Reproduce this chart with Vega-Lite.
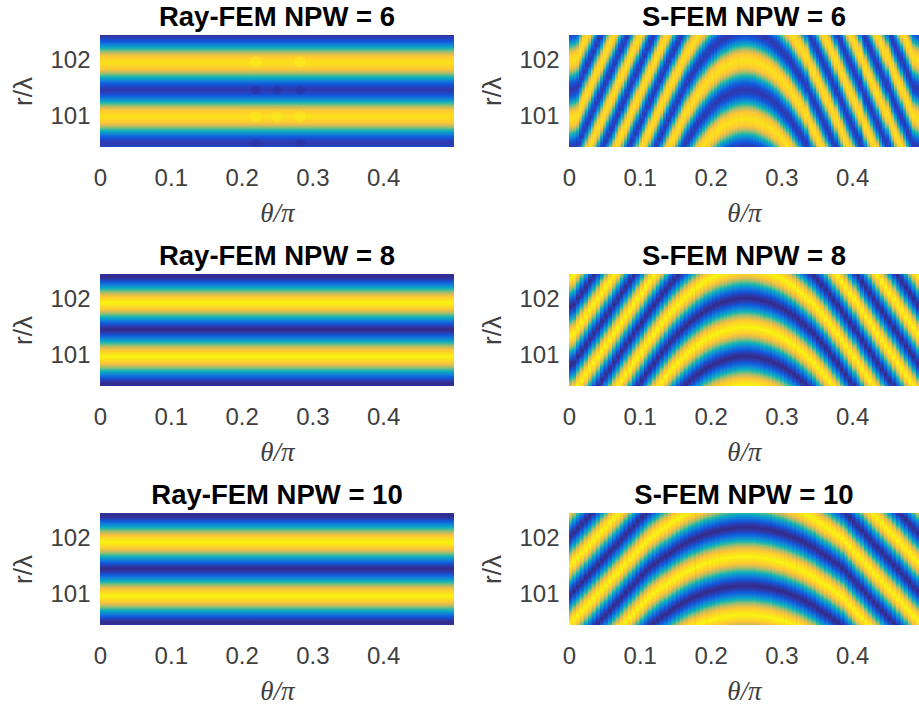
{"$schema":"https://vega.github.io/schema/vega-lite/v6.json","background":"white","padding":{"left":10,"top":3,"right":0,"bottom":0},
"config":{"view":{"stroke":null,"fill":"#352a87"},
"title":{"font":"Liberation Sans","fontSize":27.5,"fontWeight":"bold","color":"#000000","offset":4},
"axis":{"grid":false,"domain":false,"ticks":false,"labelFont":"Liberation Sans","labelFontSize":24,"labelColor":"#404040","titleColor":"#404040","titleFontWeight":"normal"},
"bar":{"color":{"gradient":"linear","x1":0,"y1":0,"x2":0,"y2":1,"stops":[{"offset":0,"color":"#2f38ab"},{"offset":0.06,"color":"#2344c4"},{"offset":0.115,"color":"#0f5cdd"},{"offset":0.167,"color":"#1481d6"},{"offset":0.21,"color":"#06a4ca"},{"offset":0.25,"color":"#2eb7a4"},{"offset":0.29,"color":"#87bf77"},{"offset":0.333,"color":"#d1bb59"},{"offset":0.385,"color":"#fec832"},{"offset":0.5,"color":"#fbe21a"},{"offset":0.615,"color":"#fec832"},{"offset":0.667,"color":"#d1bb59"},{"offset":0.71,"color":"#87bf77"},{"offset":0.75,"color":"#2eb7a4"},{"offset":0.79,"color":"#06a4ca"},{"offset":0.833,"color":"#1481d6"},{"offset":0.885,"color":"#0f5cdd"},{"offset":0.94,"color":"#2344c4"},{"offset":1,"color":"#2f38ab"}]}},
"rect":{"color":{"gradient":"linear","x1":0,"y1":0,"x2":0,"y2":1,"stops":[{"offset":0,"color":"#352a87"},{"offset":0.06,"color":"#2a3cb0"},{"offset":0.115,"color":"#0f5cdd"},{"offset":0.167,"color":"#1481d6"},{"offset":0.21,"color":"#06a4ca"},{"offset":0.25,"color":"#2eb7a4"},{"offset":0.29,"color":"#87bf77"},{"offset":0.333,"color":"#d1bb59"},{"offset":0.385,"color":"#fec832"},{"offset":0.5,"color":"#f9f50f"},{"offset":0.615,"color":"#fec832"},{"offset":0.667,"color":"#d1bb59"},{"offset":0.71,"color":"#87bf77"},{"offset":0.75,"color":"#2eb7a4"},{"offset":0.79,"color":"#06a4ca"},{"offset":0.833,"color":"#1481d6"},{"offset":0.885,"color":"#0f5cdd"},{"offset":0.94,"color":"#2a3cb0"},{"offset":1,"color":"#352a87"}]}}
},
"datasets":{
"ray":[{"p":6,"t":0,"t2":0.5,"a":99.55,"b":100.53},{"p":6,"t":0,"t2":0.5,"a":100.53,"b":101.48},{"p":6,"t":0,"t2":0.5,"a":101.48,"b":102.45},{"p":8,"t":0,"t2":0.5,"a":99.53,"b":100.5},{"p":8,"t":0,"t2":0.5,"a":100.5,"b":101.47},{"p":8,"t":0,"t2":0.5,"a":101.47,"b":102.42},{"p":8,"t":0,"t2":0.5,"a":102.42,"b":103.4},{"p":10,"t":0,"t2":0.5,"a":99.53,"b":100.5},{"p":10,"t":0,"t2":0.5,"a":100.5,"b":101.46},{"p":10,"t":0,"t2":0.5,"a":101.46,"b":102.42},{"p":10,"t":0,"t2":0.5,"a":102.42,"b":103.4}],
"dark":[{"t":0.22,"r":101.48},{"t":0.25,"r":101.48},{"t":0.283,"r":101.48},{"t":0.22,"r":100.52},{"t":0.283,"r":100.52}],
"bright":[{"t":0.22,"r":101.98},{"t":0.283,"r":101.98},{"t":0.22,"r":101.0},{"t":0.25,"r":101.0},{"t":0.283,"r":101.0}],
"s6":[{"t":0.001,"a":99.39,"b":100.43,"c":101.47,"d":102.51},{"t":0.004,"a":99.4,"b":100.44,"c":101.48,"d":102.52},{"t":0.008,"a":99.42,"b":100.46,"c":101.5,"d":102.54},{"t":0.013,"a":99.46,"b":100.5,"c":101.54,"d":102.58},{"t":0.017,"a":99.58,"b":100.62,"c":101.66,"d":102.7},{"t":0.021,"a":99.7,"b":100.74,"c":101.78,"d":102.82},{"t":0.025,"a":99.82,"b":100.86,"c":101.9,"d":102.94},{"t":0.03,"a":99.94,"b":100.98,"c":102.02,"d":103.06},{"t":0.034,"a":100.05,"b":101.09,"c":102.13,"d":103.17},{"t":0.038,"a":100.17,"b":101.21,"c":102.25,"d":103.29},{"t":0.042,"a":100.29,"b":101.33,"c":102.37,"d":103.41},{"t":0.047,"a":100.41,"b":101.45,"c":102.49,"d":103.53},{"t":0.051,"a":99.49,"b":100.53,"c":101.57,"d":102.61},{"t":0.055,"a":99.6,"b":100.64,"c":101.68,"d":102.72},{"t":0.059,"a":99.72,"b":100.76,"c":101.8,"d":102.84},{"t":0.064,"a":99.84,"b":100.88,"c":101.92,"d":102.96},{"t":0.068,"a":99.96,"b":101.0,"c":102.04,"d":103.08},{"t":0.072,"a":100.08,"b":101.12,"c":102.16,"d":103.2},{"t":0.076,"a":100.19,"b":101.23,"c":102.27,"d":103.31},{"t":0.081,"a":100.31,"b":101.35,"c":102.39,"d":103.43},{"t":0.085,"a":100.43,"b":101.47,"c":102.51,"d":103.55},{"t":0.089,"a":99.51,"b":100.55,"c":101.59,"d":102.63},{"t":0.093,"a":99.63,"b":100.67,"c":101.71,"d":102.75},{"t":0.097,"a":99.74,"b":100.78,"c":101.82,"d":102.86},{"t":0.102,"a":99.86,"b":100.9,"c":101.94,"d":102.98},{"t":0.106,"a":99.98,"b":101.02,"c":102.06,"d":103.1},{"t":0.11,"a":100.1,"b":101.14,"c":102.18,"d":103.22},{"t":0.114,"a":100.22,"b":101.26,"c":102.3,"d":103.34},{"t":0.119,"a":100.33,"b":101.37,"c":102.41,"d":103.45},{"t":0.123,"a":99.41,"b":100.45,"c":101.49,"d":102.53},{"t":0.127,"a":99.53,"b":100.57,"c":101.61,"d":102.65},{"t":0.131,"a":99.65,"b":100.69,"c":101.73,"d":102.77},{"t":0.136,"a":99.77,"b":100.81,"c":101.85,"d":102.89},{"t":0.14,"a":99.88,"b":100.92,"c":101.96,"d":103.0},{"t":0.144,"a":99.99,"b":101.03,"c":102.07,"d":103.11},{"t":0.148,"a":100.1,"b":101.14,"c":102.18,"d":103.22},{"t":0.153,"a":100.21,"b":101.25,"c":102.29,"d":103.33},{"t":0.157,"a":100.31,"b":101.35,"c":102.39,"d":103.43},{"t":0.161,"a":100.42,"b":101.46,"c":102.5,"d":103.54},{"t":0.165,"a":99.48,"b":100.52,"c":101.56,"d":102.6},{"t":0.169,"a":99.57,"b":100.61,"c":101.65,"d":102.69},{"t":0.174,"a":99.66,"b":100.7,"c":101.74,"d":102.78},{"t":0.178,"a":99.74,"b":100.78,"c":101.82,"d":102.86},{"t":0.182,"a":99.82,"b":100.86,"c":101.9,"d":102.94},{"t":0.186,"a":99.9,"b":100.94,"c":101.98,"d":103.02},{"t":0.191,"a":99.97,"b":101.01,"c":102.05,"d":103.09},{"t":0.195,"a":100.03,"b":101.07,"c":102.11,"d":103.15},{"t":0.199,"a":100.09,"b":101.13,"c":102.17,"d":103.21},{"t":0.203,"a":100.15,"b":101.19,"c":102.23,"d":103.27},{"t":0.208,"a":100.2,"b":101.24,"c":102.28,"d":103.32},{"t":0.212,"a":100.25,"b":101.29,"c":102.33,"d":103.37},{"t":0.216,"a":100.29,"b":101.33,"c":102.37,"d":103.41},{"t":0.22,"a":100.32,"b":101.36,"c":102.4,"d":103.44},{"t":0.225,"a":100.35,"b":101.39,"c":102.43,"d":103.47},{"t":0.229,"a":100.38,"b":101.42,"c":102.46,"d":103.5},{"t":0.233,"a":100.4,"b":101.44,"c":102.48,"d":103.52},{"t":0.237,"a":100.42,"b":101.46,"c":102.5,"d":103.54},{"t":0.242,"a":100.43,"b":101.47,"c":102.51,"d":103.55},{"t":0.246,"a":100.44,"b":101.48,"c":102.52,"d":103.56},{"t":0.25,"a":100.44,"b":101.48,"c":102.52,"d":103.56},{"t":0.254,"a":100.44,"b":101.48,"c":102.52,"d":103.56},{"t":0.258,"a":100.43,"b":101.47,"c":102.51,"d":103.55},{"t":0.263,"a":100.42,"b":101.46,"c":102.5,"d":103.54},{"t":0.267,"a":100.4,"b":101.44,"c":102.48,"d":103.52},{"t":0.271,"a":100.38,"b":101.42,"c":102.46,"d":103.5},{"t":0.275,"a":100.35,"b":101.39,"c":102.43,"d":103.47},{"t":0.28,"a":100.32,"b":101.36,"c":102.4,"d":103.44},{"t":0.284,"a":100.29,"b":101.33,"c":102.37,"d":103.41},{"t":0.288,"a":100.25,"b":101.29,"c":102.33,"d":103.37},{"t":0.292,"a":100.2,"b":101.24,"c":102.28,"d":103.32},{"t":0.297,"a":100.15,"b":101.19,"c":102.23,"d":103.27},{"t":0.301,"a":100.09,"b":101.13,"c":102.17,"d":103.21},{"t":0.305,"a":100.03,"b":101.07,"c":102.11,"d":103.15},{"t":0.309,"a":99.97,"b":101.01,"c":102.05,"d":103.09},{"t":0.314,"a":99.9,"b":100.94,"c":101.98,"d":103.02},{"t":0.318,"a":99.82,"b":100.86,"c":101.9,"d":102.94},{"t":0.322,"a":99.74,"b":100.78,"c":101.82,"d":102.86},{"t":0.326,"a":99.66,"b":100.7,"c":101.74,"d":102.78},{"t":0.331,"a":99.57,"b":100.61,"c":101.65,"d":102.69},{"t":0.335,"a":99.48,"b":100.52,"c":101.56,"d":102.6},{"t":0.339,"a":100.42,"b":101.46,"c":102.5,"d":103.54},{"t":0.343,"a":100.31,"b":101.35,"c":102.39,"d":103.43},{"t":0.347,"a":100.21,"b":101.25,"c":102.29,"d":103.33},{"t":0.352,"a":100.1,"b":101.14,"c":102.18,"d":103.22},{"t":0.356,"a":99.99,"b":101.03,"c":102.07,"d":103.11},{"t":0.36,"a":99.88,"b":100.92,"c":101.96,"d":103.0},{"t":0.364,"a":99.77,"b":100.81,"c":101.85,"d":102.89},{"t":0.369,"a":99.65,"b":100.69,"c":101.73,"d":102.77},{"t":0.373,"a":99.53,"b":100.57,"c":101.61,"d":102.65},{"t":0.377,"a":99.41,"b":100.45,"c":101.49,"d":102.53},{"t":0.381,"a":100.33,"b":101.37,"c":102.41,"d":103.45},{"t":0.386,"a":100.22,"b":101.26,"c":102.3,"d":103.34},{"t":0.39,"a":100.1,"b":101.14,"c":102.18,"d":103.22},{"t":0.394,"a":99.98,"b":101.02,"c":102.06,"d":103.1},{"t":0.398,"a":99.86,"b":100.9,"c":101.94,"d":102.98},{"t":0.403,"a":99.74,"b":100.78,"c":101.82,"d":102.86},{"t":0.407,"a":99.63,"b":100.67,"c":101.71,"d":102.75},{"t":0.411,"a":99.51,"b":100.55,"c":101.59,"d":102.63},{"t":0.415,"a":100.43,"b":101.47,"c":102.51,"d":103.55},{"t":0.419,"a":100.31,"b":101.35,"c":102.39,"d":103.43},{"t":0.424,"a":100.19,"b":101.23,"c":102.27,"d":103.31},{"t":0.428,"a":100.08,"b":101.12,"c":102.16,"d":103.2},{"t":0.432,"a":99.96,"b":101.0,"c":102.04,"d":103.08},{"t":0.436,"a":99.84,"b":100.88,"c":101.92,"d":102.96},{"t":0.441,"a":99.72,"b":100.76,"c":101.8,"d":102.84},{"t":0.445,"a":99.6,"b":100.64,"c":101.68,"d":102.72},{"t":0.449,"a":99.49,"b":100.53,"c":101.57,"d":102.61},{"t":0.453,"a":100.41,"b":101.45,"c":102.49,"d":103.53},{"t":0.458,"a":100.29,"b":101.33,"c":102.37,"d":103.41},{"t":0.462,"a":100.17,"b":101.21,"c":102.25,"d":103.29},{"t":0.466,"a":100.05,"b":101.09,"c":102.13,"d":103.17},{"t":0.47,"a":99.94,"b":100.98,"c":102.02,"d":103.06},{"t":0.475,"a":99.82,"b":100.86,"c":101.9,"d":102.94},{"t":0.479,"a":99.7,"b":100.74,"c":101.78,"d":102.82},{"t":0.483,"a":99.58,"b":100.62,"c":101.66,"d":102.7},{"t":0.487,"a":99.46,"b":100.5,"c":101.54,"d":102.58},{"t":0.492,"a":99.42,"b":100.46,"c":101.5,"d":102.54},{"t":0.496,"a":99.4,"b":100.44,"c":101.48,"d":102.52}],
"s8":[{"t":0.001,"a":99.79,"b":100.83,"c":101.87,"d":102.91},{"t":0.007,"a":99.83,"b":100.87,"c":101.91,"d":102.95},{"t":0.013,"a":99.94,"b":100.98,"c":102.02,"d":103.06},{"t":0.018,"a":100.04,"b":101.08,"c":102.12,"d":103.16},{"t":0.024,"a":100.14,"b":101.18,"c":102.22,"d":103.26},{"t":0.03,"a":100.25,"b":101.29,"c":102.33,"d":103.37},{"t":0.035,"a":100.35,"b":101.39,"c":102.43,"d":103.47},{"t":0.041,"a":99.41,"b":100.45,"c":101.49,"d":102.53},{"t":0.047,"a":99.52,"b":100.56,"c":101.6,"d":102.64},{"t":0.052,"a":99.62,"b":100.66,"c":101.7,"d":102.74},{"t":0.058,"a":99.72,"b":100.76,"c":101.8,"d":102.84},{"t":0.064,"a":99.83,"b":100.87,"c":101.91,"d":102.95},{"t":0.069,"a":99.93,"b":100.97,"c":102.01,"d":103.05},{"t":0.075,"a":100.04,"b":101.08,"c":102.12,"d":103.16},{"t":0.08,"a":100.14,"b":101.18,"c":102.22,"d":103.26},{"t":0.086,"a":100.24,"b":101.28,"c":102.32,"d":103.36},{"t":0.092,"a":100.35,"b":101.39,"c":102.43,"d":103.47},{"t":0.097,"a":99.41,"b":100.45,"c":101.49,"d":102.53},{"t":0.103,"a":99.51,"b":100.55,"c":101.59,"d":102.63},{"t":0.109,"a":99.62,"b":100.66,"c":101.7,"d":102.74},{"t":0.114,"a":99.72,"b":100.76,"c":101.8,"d":102.84},{"t":0.12,"a":99.82,"b":100.86,"c":101.9,"d":102.94},{"t":0.126,"a":99.91,"b":100.95,"c":101.99,"d":103.03},{"t":0.131,"a":100.01,"b":101.05,"c":102.09,"d":103.13},{"t":0.137,"a":100.1,"b":101.14,"c":102.18,"d":103.22},{"t":0.143,"a":100.19,"b":101.23,"c":102.27,"d":103.31},{"t":0.148,"a":100.27,"b":101.31,"c":102.35,"d":103.39},{"t":0.154,"a":100.35,"b":101.39,"c":102.43,"d":103.47},{"t":0.16,"a":99.38,"b":100.42,"c":101.46,"d":102.5},{"t":0.165,"a":99.45,"b":100.49,"c":101.53,"d":102.57},{"t":0.171,"a":99.51,"b":100.55,"c":101.59,"d":102.63},{"t":0.176,"a":99.57,"b":100.61,"c":101.65,"d":102.69},{"t":0.182,"a":99.63,"b":100.67,"c":101.71,"d":102.75},{"t":0.188,"a":99.68,"b":100.72,"c":101.76,"d":102.8},{"t":0.193,"a":99.73,"b":100.77,"c":101.81,"d":102.85},{"t":0.199,"a":99.77,"b":100.81,"c":101.85,"d":102.89},{"t":0.205,"a":99.81,"b":100.85,"c":101.89,"d":102.93},{"t":0.21,"a":99.84,"b":100.88,"c":101.92,"d":102.96},{"t":0.216,"a":99.87,"b":100.91,"c":101.95,"d":102.99},{"t":0.222,"a":99.89,"b":100.93,"c":101.97,"d":103.01},{"t":0.227,"a":99.91,"b":100.95,"c":101.99,"d":103.03},{"t":0.233,"a":99.93,"b":100.97,"c":102.01,"d":103.05},{"t":0.239,"a":99.94,"b":100.98,"c":102.02,"d":103.06},{"t":0.244,"a":99.95,"b":100.99,"c":102.03,"d":103.07},{"t":0.25,"a":99.95,"b":100.99,"c":102.03,"d":103.07},{"t":0.256,"a":99.95,"b":100.99,"c":102.03,"d":103.07},{"t":0.261,"a":99.94,"b":100.98,"c":102.02,"d":103.06},{"t":0.267,"a":99.93,"b":100.97,"c":102.01,"d":103.05},{"t":0.273,"a":99.91,"b":100.95,"c":101.99,"d":103.03},{"t":0.278,"a":99.89,"b":100.93,"c":101.97,"d":103.01},{"t":0.284,"a":99.87,"b":100.91,"c":101.95,"d":102.99},{"t":0.29,"a":99.84,"b":100.88,"c":101.92,"d":102.96},{"t":0.295,"a":99.81,"b":100.85,"c":101.89,"d":102.93},{"t":0.301,"a":99.77,"b":100.81,"c":101.85,"d":102.89},{"t":0.307,"a":99.73,"b":100.77,"c":101.81,"d":102.85},{"t":0.312,"a":99.68,"b":100.72,"c":101.76,"d":102.8},{"t":0.318,"a":99.63,"b":100.67,"c":101.71,"d":102.75},{"t":0.324,"a":99.57,"b":100.61,"c":101.65,"d":102.69},{"t":0.329,"a":99.51,"b":100.55,"c":101.59,"d":102.63},{"t":0.335,"a":99.45,"b":100.49,"c":101.53,"d":102.57},{"t":0.34,"a":99.38,"b":100.42,"c":101.46,"d":102.5},{"t":0.346,"a":100.35,"b":101.39,"c":102.43,"d":103.47},{"t":0.352,"a":100.27,"b":101.31,"c":102.35,"d":103.39},{"t":0.357,"a":100.19,"b":101.23,"c":102.27,"d":103.31},{"t":0.363,"a":100.1,"b":101.14,"c":102.18,"d":103.22},{"t":0.369,"a":100.01,"b":101.05,"c":102.09,"d":103.13},{"t":0.374,"a":99.91,"b":100.95,"c":101.99,"d":103.03},{"t":0.38,"a":99.82,"b":100.86,"c":101.9,"d":102.94},{"t":0.386,"a":99.72,"b":100.76,"c":101.8,"d":102.84},{"t":0.391,"a":99.62,"b":100.66,"c":101.7,"d":102.74},{"t":0.397,"a":99.51,"b":100.55,"c":101.59,"d":102.63},{"t":0.403,"a":99.41,"b":100.45,"c":101.49,"d":102.53},{"t":0.408,"a":100.35,"b":101.39,"c":102.43,"d":103.47},{"t":0.414,"a":100.24,"b":101.28,"c":102.32,"d":103.36},{"t":0.42,"a":100.14,"b":101.18,"c":102.22,"d":103.26},{"t":0.425,"a":100.04,"b":101.08,"c":102.12,"d":103.16},{"t":0.431,"a":99.93,"b":100.97,"c":102.01,"d":103.05},{"t":0.436,"a":99.83,"b":100.87,"c":101.91,"d":102.95},{"t":0.442,"a":99.72,"b":100.76,"c":101.8,"d":102.84},{"t":0.448,"a":99.62,"b":100.66,"c":101.7,"d":102.74},{"t":0.453,"a":99.52,"b":100.56,"c":101.6,"d":102.64},{"t":0.459,"a":99.41,"b":100.45,"c":101.49,"d":102.53},{"t":0.465,"a":100.35,"b":101.39,"c":102.43,"d":103.47},{"t":0.47,"a":100.25,"b":101.29,"c":102.33,"d":103.37},{"t":0.476,"a":100.14,"b":101.18,"c":102.22,"d":103.26},{"t":0.482,"a":100.04,"b":101.08,"c":102.12,"d":103.16},{"t":0.487,"a":99.94,"b":100.98,"c":102.02,"d":103.06},{"t":0.493,"a":99.83,"b":100.87,"c":101.91,"d":102.95}],
"s10":[{"t":0.001,"a":99.95,"b":100.99,"c":102.03,"d":103.07},{"t":0.007,"a":100.03,"b":101.07,"c":102.11,"d":103.15},{"t":0.013,"a":100.1,"b":101.14,"c":102.18,"d":103.22},{"t":0.018,"a":100.18,"b":101.22,"c":102.26,"d":103.3},{"t":0.024,"a":100.26,"b":101.3,"c":102.34,"d":103.38},{"t":0.03,"a":100.33,"b":101.37,"c":102.41,"d":103.45},{"t":0.035,"a":99.37,"b":100.41,"c":101.45,"d":102.49},{"t":0.041,"a":99.45,"b":100.49,"c":101.53,"d":102.57},{"t":0.047,"a":99.53,"b":100.57,"c":101.61,"d":102.65},{"t":0.052,"a":99.6,"b":100.64,"c":101.68,"d":102.72},{"t":0.058,"a":99.68,"b":100.72,"c":101.76,"d":102.8},{"t":0.064,"a":99.76,"b":100.8,"c":101.84,"d":102.88},{"t":0.069,"a":99.83,"b":100.87,"c":101.91,"d":102.95},{"t":0.075,"a":99.91,"b":100.95,"c":101.99,"d":103.03},{"t":0.08,"a":99.99,"b":101.03,"c":102.07,"d":103.11},{"t":0.086,"a":100.07,"b":101.11,"c":102.15,"d":103.19},{"t":0.092,"a":100.14,"b":101.18,"c":102.22,"d":103.26},{"t":0.097,"a":100.22,"b":101.26,"c":102.3,"d":103.34},{"t":0.103,"a":100.3,"b":101.34,"c":102.38,"d":103.42},{"t":0.109,"a":100.37,"b":101.41,"c":102.45,"d":103.49},{"t":0.114,"a":99.4,"b":100.44,"c":101.48,"d":102.52},{"t":0.12,"a":99.46,"b":100.5,"c":101.54,"d":102.58},{"t":0.126,"a":99.51,"b":100.55,"c":101.59,"d":102.63},{"t":0.131,"a":99.57,"b":100.61,"c":101.65,"d":102.69},{"t":0.137,"a":99.61,"b":100.65,"c":101.69,"d":102.73},{"t":0.143,"a":99.66,"b":100.7,"c":101.74,"d":102.78},{"t":0.148,"a":99.71,"b":100.75,"c":101.79,"d":102.83},{"t":0.154,"a":99.76,"b":100.8,"c":101.84,"d":102.88},{"t":0.16,"a":99.8,"b":100.84,"c":101.88,"d":102.92},{"t":0.165,"a":99.84,"b":100.88,"c":101.92,"d":102.96},{"t":0.171,"a":99.88,"b":100.92,"c":101.96,"d":103.0},{"t":0.176,"a":99.91,"b":100.95,"c":101.99,"d":103.03},{"t":0.182,"a":99.94,"b":100.98,"c":102.02,"d":103.06},{"t":0.188,"a":99.97,"b":101.01,"c":102.05,"d":103.09},{"t":0.193,"a":100.0,"b":101.04,"c":102.08,"d":103.12},{"t":0.199,"a":100.02,"b":101.06,"c":102.1,"d":103.14},{"t":0.205,"a":100.04,"b":101.08,"c":102.12,"d":103.16},{"t":0.21,"a":100.06,"b":101.1,"c":102.14,"d":103.18},{"t":0.216,"a":100.08,"b":101.12,"c":102.16,"d":103.2},{"t":0.222,"a":100.09,"b":101.13,"c":102.17,"d":103.21},{"t":0.227,"a":100.1,"b":101.14,"c":102.18,"d":103.22},{"t":0.233,"a":100.11,"b":101.15,"c":102.19,"d":103.23},{"t":0.239,"a":100.12,"b":101.16,"c":102.2,"d":103.24},{"t":0.244,"a":100.12,"b":101.16,"c":102.2,"d":103.24},{"t":0.25,"a":100.12,"b":101.16,"c":102.2,"d":103.24},{"t":0.256,"a":100.12,"b":101.16,"c":102.2,"d":103.24},{"t":0.261,"a":100.12,"b":101.16,"c":102.2,"d":103.24},{"t":0.267,"a":100.11,"b":101.15,"c":102.19,"d":103.23},{"t":0.273,"a":100.1,"b":101.14,"c":102.18,"d":103.22},{"t":0.278,"a":100.09,"b":101.13,"c":102.17,"d":103.21},{"t":0.284,"a":100.08,"b":101.12,"c":102.16,"d":103.2},{"t":0.29,"a":100.06,"b":101.1,"c":102.14,"d":103.18},{"t":0.295,"a":100.04,"b":101.08,"c":102.12,"d":103.16},{"t":0.301,"a":100.02,"b":101.06,"c":102.1,"d":103.14},{"t":0.307,"a":100.0,"b":101.04,"c":102.08,"d":103.12},{"t":0.312,"a":99.97,"b":101.01,"c":102.05,"d":103.09},{"t":0.318,"a":99.94,"b":100.98,"c":102.02,"d":103.06},{"t":0.324,"a":99.91,"b":100.95,"c":101.99,"d":103.03},{"t":0.329,"a":99.88,"b":100.92,"c":101.96,"d":103.0},{"t":0.335,"a":99.84,"b":100.88,"c":101.92,"d":102.96},{"t":0.34,"a":99.8,"b":100.84,"c":101.88,"d":102.92},{"t":0.346,"a":99.76,"b":100.8,"c":101.84,"d":102.88},{"t":0.352,"a":99.71,"b":100.75,"c":101.79,"d":102.83},{"t":0.357,"a":99.66,"b":100.7,"c":101.74,"d":102.78},{"t":0.363,"a":99.61,"b":100.65,"c":101.69,"d":102.73},{"t":0.369,"a":99.57,"b":100.61,"c":101.65,"d":102.69},{"t":0.374,"a":99.51,"b":100.55,"c":101.59,"d":102.63},{"t":0.38,"a":99.46,"b":100.5,"c":101.54,"d":102.58},{"t":0.386,"a":99.4,"b":100.44,"c":101.48,"d":102.52},{"t":0.391,"a":100.37,"b":101.41,"c":102.45,"d":103.49},{"t":0.397,"a":100.3,"b":101.34,"c":102.38,"d":103.42},{"t":0.403,"a":100.22,"b":101.26,"c":102.3,"d":103.34},{"t":0.408,"a":100.14,"b":101.18,"c":102.22,"d":103.26},{"t":0.414,"a":100.07,"b":101.11,"c":102.15,"d":103.19},{"t":0.42,"a":99.99,"b":101.03,"c":102.07,"d":103.11},{"t":0.425,"a":99.91,"b":100.95,"c":101.99,"d":103.03},{"t":0.431,"a":99.83,"b":100.87,"c":101.91,"d":102.95},{"t":0.436,"a":99.76,"b":100.8,"c":101.84,"d":102.88},{"t":0.442,"a":99.68,"b":100.72,"c":101.76,"d":102.8},{"t":0.448,"a":99.6,"b":100.64,"c":101.68,"d":102.72},{"t":0.453,"a":99.53,"b":100.57,"c":101.61,"d":102.65},{"t":0.459,"a":99.45,"b":100.49,"c":101.53,"d":102.57},{"t":0.465,"a":99.37,"b":100.41,"c":101.45,"d":102.49},{"t":0.47,"a":100.33,"b":101.37,"c":102.41,"d":103.45},{"t":0.476,"a":100.26,"b":101.3,"c":102.34,"d":103.38},{"t":0.482,"a":100.18,"b":101.22,"c":102.26,"d":103.3},{"t":0.487,"a":100.1,"b":101.14,"c":102.18,"d":103.22},{"t":0.493,"a":100.03,"b":101.07,"c":102.11,"d":103.15}]
},
"columns":2,"spacing":{"row":127,"column":115},"bounds":"flush",
"concat":[
{"title":"Ray-FEM NPW = 6","width":354,"height":112,"data":{"name":"ray"},"transform":[{"filter":"datum.p==6"}],
"encoding":{"x":{"field":"t","type":"quantitative","scale":{"domain":[0,0.5],"nice":false},"axis":{"values":[0,0.1,0.2,0.3,0.4],"format":"~g","labelPadding":19,"title":"θ/π","titleFont":"Liberation Serif","titleFontStyle":"italic","titleFontSize":27,"titlePadding":10,"labelFlush":false}},"y":{"type":"quantitative","scale":{"domain":[100.46,102.46],"nice":false},"axis":{"values":[101,102],"format":"d","labelPadding":10,"title":"r/λ","titleFont":"Liberation Sans","titleFontSize":26,"titlePadding":13}}},
"layer":[{"mark":{"type":"bar","clip":true},"encoding":{"x2":{"field":"t2"},"y":{"field":"a"},"y2":{"field":"b"}}},
{"data":{"name":"dark"},"transform":[],"mark":{"type":"point","filled":true,"size":90,"opacity":0.35,"color":"#2c2a90","clip":true},"encoding":{"y":{"field":"r"}}},
{"data":{"name":"bright"},"transform":[],"mark":{"type":"point","filled":true,"size":130,"opacity":0.35,"color":"#fbf81e","clip":true},"encoding":{"y":{"field":"r"}}}]},
{"title":"S-FEM NPW = 6","width":350,"height":112,"data":{"name":"s6"},
"encoding":{"x":{"field":"t","type":"quantitative","scale":{"domain":[0,0.4944],"nice":false},"axis":{"values":[0,0.1,0.2,0.3,0.4],"format":"~g","labelPadding":19,"title":"θ/π","titleFont":"Liberation Serif","titleFontStyle":"italic","titleFontSize":27,"titlePadding":10,"labelFlush":false}},"y":{"type":"quantitative","scale":{"domain":[100.46,102.46],"nice":false},"axis":{"values":[101,102],"format":"d","labelPadding":10,"title":"r/λ","titleFont":"Liberation Sans","titleFontSize":26,"titlePadding":13}}},
"layer":[{"mark":{"type":"rect","clip":true,"width":4.2,"color":{"gradient":"linear","x1":0,"y1":0,"x2":0,"y2":1,"stops":[{"offset":0,"color":"#2f38ab"},{"offset":0.06,"color":"#2344c4"},{"offset":0.115,"color":"#0f5cdd"},{"offset":0.167,"color":"#1481d6"},{"offset":0.21,"color":"#06a4ca"},{"offset":0.25,"color":"#2eb7a4"},{"offset":0.29,"color":"#87bf77"},{"offset":0.333,"color":"#d1bb59"},{"offset":0.385,"color":"#fec832"},{"offset":0.5,"color":"#fbe21a"},{"offset":0.615,"color":"#fec832"},{"offset":0.667,"color":"#d1bb59"},{"offset":0.71,"color":"#87bf77"},{"offset":0.75,"color":"#2eb7a4"},{"offset":0.79,"color":"#06a4ca"},{"offset":0.833,"color":"#1481d6"},{"offset":0.885,"color":"#0f5cdd"},{"offset":0.94,"color":"#2344c4"},{"offset":1,"color":"#2f38ab"}]}},"encoding":{"y":{"field":"a"},"y2":{"field":"b"}}},{"mark":{"type":"rect","clip":true,"width":4.2,"color":{"gradient":"linear","x1":0,"y1":0,"x2":0,"y2":1,"stops":[{"offset":0,"color":"#2f38ab"},{"offset":0.06,"color":"#2344c4"},{"offset":0.115,"color":"#0f5cdd"},{"offset":0.167,"color":"#1481d6"},{"offset":0.21,"color":"#06a4ca"},{"offset":0.25,"color":"#2eb7a4"},{"offset":0.29,"color":"#87bf77"},{"offset":0.333,"color":"#d1bb59"},{"offset":0.385,"color":"#fec832"},{"offset":0.5,"color":"#fbe21a"},{"offset":0.615,"color":"#fec832"},{"offset":0.667,"color":"#d1bb59"},{"offset":0.71,"color":"#87bf77"},{"offset":0.75,"color":"#2eb7a4"},{"offset":0.79,"color":"#06a4ca"},{"offset":0.833,"color":"#1481d6"},{"offset":0.885,"color":"#0f5cdd"},{"offset":0.94,"color":"#2344c4"},{"offset":1,"color":"#2f38ab"}]}},"encoding":{"y":{"field":"b"},"y2":{"field":"c"}}},{"mark":{"type":"rect","clip":true,"width":4.2,"color":{"gradient":"linear","x1":0,"y1":0,"x2":0,"y2":1,"stops":[{"offset":0,"color":"#2f38ab"},{"offset":0.06,"color":"#2344c4"},{"offset":0.115,"color":"#0f5cdd"},{"offset":0.167,"color":"#1481d6"},{"offset":0.21,"color":"#06a4ca"},{"offset":0.25,"color":"#2eb7a4"},{"offset":0.29,"color":"#87bf77"},{"offset":0.333,"color":"#d1bb59"},{"offset":0.385,"color":"#fec832"},{"offset":0.5,"color":"#fbe21a"},{"offset":0.615,"color":"#fec832"},{"offset":0.667,"color":"#d1bb59"},{"offset":0.71,"color":"#87bf77"},{"offset":0.75,"color":"#2eb7a4"},{"offset":0.79,"color":"#06a4ca"},{"offset":0.833,"color":"#1481d6"},{"offset":0.885,"color":"#0f5cdd"},{"offset":0.94,"color":"#2344c4"},{"offset":1,"color":"#2f38ab"}]}},"encoding":{"y":{"field":"c"},"y2":{"field":"d"}}}]},
{"title":"Ray-FEM NPW = 8","width":354,"height":112,"data":{"name":"ray"},"transform":[{"filter":"datum.p==8"}],
"encoding":{"x":{"field":"t","type":"quantitative","scale":{"domain":[0,0.5],"nice":false},"axis":{"values":[0,0.1,0.2,0.3,0.4],"format":"~g","labelPadding":19,"title":"θ/π","titleFont":"Liberation Serif","titleFontStyle":"italic","titleFontSize":27,"titlePadding":10,"labelFlush":false}},"y":{"type":"quantitative","scale":{"domain":[100.46,102.46],"nice":false},"axis":{"values":[101,102],"format":"d","labelPadding":10,"title":"r/λ","titleFont":"Liberation Sans","titleFontSize":26,"titlePadding":13}}},
"layer":[{"mark":{"type":"rect","clip":true},"encoding":{"x2":{"field":"t2"},"y":{"field":"a"},"y2":{"field":"b"}}}]},
{"title":"S-FEM NPW = 8","width":350,"height":112,"data":{"name":"s8"},
"encoding":{"x":{"field":"t","type":"quantitative","scale":{"domain":[0,0.4944],"nice":false},"axis":{"values":[0,0.1,0.2,0.3,0.4],"format":"~g","labelPadding":19,"title":"θ/π","titleFont":"Liberation Serif","titleFontStyle":"italic","titleFontSize":27,"titlePadding":10,"labelFlush":false}},"y":{"type":"quantitative","scale":{"domain":[100.46,102.46],"nice":false},"axis":{"values":[101,102],"format":"d","labelPadding":10,"title":"r/λ","titleFont":"Liberation Sans","titleFontSize":26,"titlePadding":13}}},
"layer":[{"mark":{"type":"rect","clip":true,"width":4.6},"encoding":{"y":{"field":"a"},"y2":{"field":"b"}}},{"mark":{"type":"rect","clip":true,"width":4.6},"encoding":{"y":{"field":"b"},"y2":{"field":"c"}}},{"mark":{"type":"rect","clip":true,"width":4.6},"encoding":{"y":{"field":"c"},"y2":{"field":"d"}}}]},
{"title":"Ray-FEM NPW = 10","width":354,"height":112,"data":{"name":"ray"},"transform":[{"filter":"datum.p==10"}],
"encoding":{"x":{"field":"t","type":"quantitative","scale":{"domain":[0,0.5],"nice":false},"axis":{"values":[0,0.1,0.2,0.3,0.4],"format":"~g","labelPadding":19,"title":"θ/π","titleFont":"Liberation Serif","titleFontStyle":"italic","titleFontSize":27,"titlePadding":10,"labelFlush":false}},"y":{"type":"quantitative","scale":{"domain":[100.46,102.46],"nice":false},"axis":{"values":[101,102],"format":"d","labelPadding":10,"title":"r/λ","titleFont":"Liberation Sans","titleFontSize":26,"titlePadding":13}}},
"layer":[{"mark":{"type":"rect","clip":true},"encoding":{"x2":{"field":"t2"},"y":{"field":"a"},"y2":{"field":"b"}}}]},
{"title":"S-FEM NPW = 10","width":350,"height":112,"data":{"name":"s10"},
"encoding":{"x":{"field":"t","type":"quantitative","scale":{"domain":[0,0.4944],"nice":false},"axis":{"values":[0,0.1,0.2,0.3,0.4],"format":"~g","labelPadding":19,"title":"θ/π","titleFont":"Liberation Serif","titleFontStyle":"italic","titleFontSize":27,"titlePadding":10,"labelFlush":false}},"y":{"type":"quantitative","scale":{"domain":[100.46,102.46],"nice":false},"axis":{"values":[101,102],"format":"d","labelPadding":10,"title":"r/λ","titleFont":"Liberation Sans","titleFontSize":26,"titlePadding":13}}},
"layer":[{"mark":{"type":"rect","clip":true,"width":4.6},"encoding":{"y":{"field":"a"},"y2":{"field":"b"}}},{"mark":{"type":"rect","clip":true,"width":4.6},"encoding":{"y":{"field":"b"},"y2":{"field":"c"}}},{"mark":{"type":"rect","clip":true,"width":4.6},"encoding":{"y":{"field":"c"},"y2":{"field":"d"}}}]}
]}
